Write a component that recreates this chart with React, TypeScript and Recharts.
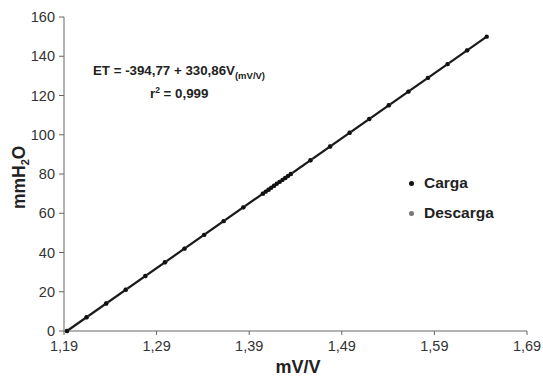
import React from 'react';
import { ScatterChart, Scatter, XAxis, YAxis } from 'recharts';

const xTicks = [1.19, 1.29, 1.39, 1.49, 1.59, 1.69];
const yTicks = [0, 20, 40, 60, 80, 100, 120, 140, 160];

const cargaX = [1.1932, 1.2143, 1.2355, 1.2566, 1.2778, 1.299, 1.3201, 1.3413, 1.3624, 1.3836, 1.4047, 1.4078, 1.4108, 1.4138, 1.4168, 1.4198, 1.4228, 1.4259, 1.4289, 1.4319, 1.4349, 1.4561, 1.4773, 1.4984, 1.5196, 1.5407, 1.5619, 1.583, 1.6042, 1.6253, 1.6465];
const cargaY = [0, 7, 14, 21, 28, 35, 42, 49, 56, 63, 70, 71, 72, 73, 74, 75, 76, 77, 78, 79, 80, 87, 94, 101, 108, 115, 122, 129, 136, 143, 150];
const descargaX = [1.1935, 1.2146, 1.2358, 1.2569, 1.2781, 1.2993, 1.3204, 1.3416, 1.3627, 1.3839, 1.405, 1.4111, 1.4171, 1.4231, 1.4292, 1.4352, 1.4564, 1.4776, 1.4987, 1.5199, 1.541, 1.5622, 1.5833, 1.6045, 1.6256];
const descargaY = [0, 7, 14, 21, 28, 35, 42, 49, 56, 63, 70, 72, 74, 76, 78, 80, 87, 94, 101, 108, 115, 122, 129, 136, 143];
const fitX = [1.1932, 1.6465];
const fitY = [0, 150];

const carga = cargaX.map((x, i) => ({ x, y: cargaY[i] }));
const descarga = descargaX.map((x, i) => ({ x, y: descargaY[i] }));
const fit = fitX.map((x, i) => ({ x, y: fitY[i] }));

const font = 'Liberation Sans, Arial, sans-serif';
const fmt = (v: number) => v.toFixed(2).replace('.', ',');

const Dot = (props: any) => {
  const { cx, cy, fill } = props;
  return <circle cx={cx} cy={cy} r={2.2} fill={fill} />;
};

export default function App() {
  return (
    <div style={{ position: 'absolute', left: 0, top: 0, width: 543, height: 380, background: '#fff', fontFamily: font }}>
      <ScatterChart width={543} height={380} margin={{ top: 17, right: 16, bottom: 0, left: 0 }}>
        <XAxis
          type="number"
          dataKey="x"
          domain={[1.19, 1.69]}
          ticks={xTicks}
          tickFormatter={fmt}
          height={49}
          stroke="#666"
          tickSize={4}
          tick={{ fill: '#333', fontSize: 14.5, fontFamily: font }}
          tickMargin={6}
          allowDataOverflow
        />
        <YAxis
          type="number"
          dataKey="y"
          domain={[0, 160]}
          ticks={yTicks}
          width={64}
          stroke="#666"
          tickSize={5}
          tick={{ fill: '#333', fontSize: 14.5, fontFamily: font }}
          tickMargin={4}
        />
        <Scatter data={fit} line={{ stroke: '#1a1a1a', strokeWidth: 2.2 }} shape={() => null} isAnimationActive={false} />
        <Scatter data={descarga} fill="#777" shape={<Dot />} isAnimationActive={false} />
        <Scatter data={carga} fill="#111" shape={<Dot />} isAnimationActive={false} />
      </ScatterChart>

      <div style={{ position: 'absolute', left: 93, top: 63, fontSize: 13.3, fontWeight: 'bold', color: '#222', whiteSpace: 'nowrap' }}>
        ET = -394,77 + 330,86V<sub style={{ fontSize: 9.5 }}>(mV/V)</sub>
      </div>
      <div style={{ position: 'absolute', left: 150, top: 85, fontSize: 13.3, fontWeight: 'bold', color: '#222', whiteSpace: 'nowrap' }}>
        r<sup style={{ fontSize: 8.5 }}>2</sup> = 0,999
      </div>

      <div style={{ position: 'absolute', left: 409, top: 173, fontSize: 15.5, fontWeight: 'bold', color: '#222', whiteSpace: 'nowrap', lineHeight: '20px' }}>
        <div><span style={{ display: 'inline-block', width: 5, height: 5, borderRadius: 3, background: '#111', marginRight: 10, verticalAlign: 'middle' }} />Carga</div>
        <div style={{ marginTop: 10 }}><span style={{ display: 'inline-block', width: 5, height: 5, borderRadius: 3, background: '#777', marginRight: 10, verticalAlign: 'middle' }} />Descarga</div>
      </div>

      <div style={{ position: 'absolute', left: 0, top: 357, width: 596, textAlign: 'center', fontSize: 18, fontWeight: 'bold', color: '#222' }}>
        mV/V
      </div>

      <div style={{ position: 'absolute', left: 22, top: 174, width: 0, height: 0 }}>
        <div style={{ position: 'absolute', left: -60, top: -11, width: 120, textAlign: 'center', transform: 'rotate(-90deg)', fontSize: 17.5, fontWeight: 'bold', color: '#222', lineHeight: '22px', whiteSpace: 'nowrap' }}>
          mmH<sub style={{ fontSize: 11 }}>2</sub>O
        </div>
      </div>
    </div>
  );
}
